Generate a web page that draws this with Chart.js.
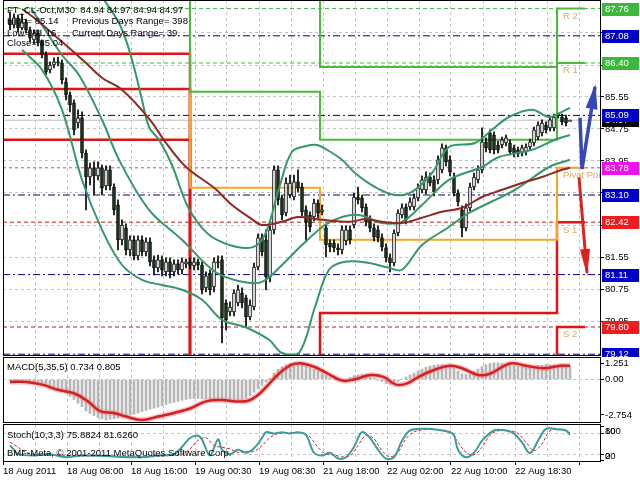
<!DOCTYPE html>
<html>
<head>
<meta charset="utf-8">
<script src="https://cdn.jsdelivr.net/npm/chart.js@4.4.1/dist/chart.umd.min.js"></script>
<style>
  html, body { margin: 0; padding: 0; background: #fff; }
  #wrap { position: relative; width: 640px; height: 480px; overflow: hidden; }
  canvas { position: absolute; left: 0; }
</style>
</head>
<body>
<div id="wrap">
  <canvas id="main" width="640" height="357" style="top:0"></canvas>
  <canvas id="macd" width="640" height="66" style="top:357px"></canvas>
  <canvas id="stoch" width="640" height="57" style="top:423px"></canvas>
</div>
<script>
// ---- data (M30 bars, index 0 = 18 Aug 00:00) ----
const barTimes = ['18 Aug 2011', '18 Aug 08:00', '18 Aug 16:00', '19 Aug 00:30', '19 Aug 08:30',
  '21 Aug 18:00', '22 Aug 02:00', '22 Aug 10:00', '22 Aug 18:30'];

const opens = [87.48,87.35,87.53,87.28,87.43,87.23,86.98,87.15,86.93,86.60,
  86.23,86.35,86.43,86.40,85.93,85.60,85.40,84.90,85.03,84.15,
  83.55,83.78,83.58,83.78,83.33,83.73,83.30,82.85,81.98,82.28,
  81.73,81.98,81.58,81.98,81.68,81.93,81.48,81.28,81.48,81.18,
  81.43,81.18,81.38,81.23,81.38,81.43,81.33,81.43,81.35,80.78,
  81.15,80.80,81.43,81.48,80.40,80.18,80.18,80.40,80.65,80.53,
  80.05,80.30,81.30,82.03,81.98,81.05,82.23,83.73,83.03,82.65,
  83.10,83.05,83.43,83.30,82.73,82.60,82.55,82.90,82.68,82.28,
  81.90,81.90,81.78,81.73,81.95,82.23,82.35,83.05,83.03,82.80,
  82.48,82.28,82.23,82.03,81.78,81.53,81.40,82.15,82.60,82.80,
  82.80,82.80,83.03,83.23,83.23,83.55,83.48,83.48,83.73,84.28,
  83.98,83.55,83.15,82.73,82.28,82.78,83.30,83.48,83.73,84.43,
  84.65,84.60,84.35,84.35,84.40,84.40,84.28,84.23,84.15,84.18,
  84.30,84.40,84.55,84.65,84.85,84.78,84.78,85.10,85.05,85.03,
  84.94];
const highs = [87.68,87.63,87.60,87.63,87.50,87.30,87.23,87.23,86.98,86.68,
  86.43,86.53,86.55,86.48,86.03,85.68,85.48,85.23,85.18,84.23,
  83.90,83.93,83.93,83.85,83.83,83.83,83.38,82.98,82.48,82.38,
  82.08,82.08,82.08,82.08,82.03,82.03,81.58,81.60,81.58,81.53,
  81.53,81.48,81.48,81.53,81.50,81.53,81.53,81.50,81.43,81.18,
  81.23,81.53,81.58,81.58,80.48,80.43,80.73,80.85,80.78,80.60,
  80.48,81.40,82.13,82.13,82.23,82.33,83.83,83.83,83.10,83.53,
  83.60,83.60,83.73,83.40,82.83,82.68,83.00,82.98,82.85,82.35,
  81.98,81.98,81.88,82.33,82.33,82.33,83.15,83.30,83.10,82.88,
  82.58,82.38,82.33,82.13,81.88,81.63,82.23,82.73,82.88,82.88,
  83.03,83.13,83.38,83.58,83.68,83.65,83.58,84.08,84.38,84.35,
  84.08,83.65,83.23,82.83,82.88,83.40,83.65,83.83,84.78,84.53,
  84.73,84.68,84.45,84.55,84.60,84.48,84.35,84.30,84.35,84.38,
  84.50,84.80,84.93,84.98,84.93,85.05,85.12,85.14,85.12,85.10,
  84.97];
const lows = [87.23,87.28,87.18,87.23,87.15,86.93,86.88,86.83,86.53,86.10,
  86.15,86.28,86.33,85.88,85.48,85.18,84.60,84.78,84.03,82.73,
  83.35,83.10,83.48,83.10,83.23,83.23,82.60,81.73,81.85,81.60,
  81.58,81.48,81.48,81.58,81.58,81.33,81.10,81.18,81.08,81.08,
  81.03,81.08,81.13,81.13,81.28,81.25,81.23,81.23,80.63,80.68,
  80.60,80.68,81.28,79.40,79.73,80.08,80.08,80.33,80.28,79.80,
  79.98,80.23,81.23,81.58,80.73,80.93,82.13,82.85,82.48,82.58,
  83.03,82.98,83.18,82.58,81.93,82.18,82.45,82.53,82.60,81.55,
  81.68,81.68,81.60,81.63,81.85,81.88,82.28,82.88,82.68,82.33,
  82.18,81.95,81.93,81.70,81.43,81.18,81.33,82.08,82.53,82.38,
  82.73,82.73,82.95,83.15,83.13,83.33,83.08,83.38,83.65,83.83,
  83.58,83.08,82.83,82.05,82.20,82.70,83.23,83.40,83.65,84.18,
  84.15,84.13,84.15,84.28,84.33,84.10,84.05,84.05,84.08,84.10,
  84.23,84.33,84.48,84.58,84.65,84.70,84.70,85.03,84.85,84.83,
  84.94];
const closes = [87.35,87.53,87.28,87.43,87.23,87.03,87.15,86.90,86.60,86.18,
  86.35,86.43,86.40,85.98,85.60,85.35,84.73,85.03,84.15,83.55,
  83.78,83.58,83.78,83.28,83.73,83.33,82.73,81.98,82.35,81.73,
  81.98,81.58,81.98,81.68,81.93,81.43,81.28,81.48,81.23,81.43,
  81.18,81.38,81.23,81.43,81.43,81.35,81.43,81.35,80.73,81.08,
  80.73,81.43,81.40,80.03,79.98,80.30,80.65,80.73,80.40,80.05,
  80.35,81.30,82.03,81.68,81.05,82.23,83.73,82.98,82.60,83.40,
  83.40,83.43,83.28,82.68,82.43,82.30,82.90,82.65,82.73,81.85,
  81.80,81.78,81.73,82.23,82.23,81.98,83.05,82.98,82.78,82.43,
  82.28,82.05,82.03,81.80,81.53,81.40,82.15,82.65,82.78,82.48,
  82.93,83.03,83.28,83.48,83.55,83.40,83.18,83.98,84.28,83.93,
  83.68,83.15,82.93,82.28,82.78,83.30,83.55,83.73,84.43,84.28,
  84.23,84.23,84.23,84.48,84.53,84.18,84.13,84.13,84.28,84.30,
  84.43,84.73,84.85,84.90,84.73,84.98,85.05,85.12,84.93,84.90,
  84.97];

// indicator lines, [bar, value]
const maLine = [[3,87.75],[6,87.53],[13,86.93],[19,86.40],[23,86.03],[28,85.73],[35,84.98],[39,84.40],
  [44,83.80],[51,83.28],[55.5,82.85],[60,82.53],[63,82.35],[68,82.43],[72,82.55],[78,82.48],[85,82.43],
  [89,82.50],[93,82.43],[98,82.40],[103,82.53],[108,82.68],[113,82.78],[118,83.05],[123,83.23],
  [128,83.40],[133,83.55],[138,83.73],[140,83.78]];
const bbUpper = [[21.75,88.23],[27.5,87.35],[30.5,86.48],[33,85.48],[34.75,84.80],[37.25,84.48],[40.5,83.85],
  [44.25,82.85],[48,82.28],[51.75,81.98],[58,81.78],[61.75,81.85],[64.25,82.23],[67.5,83.35],[70.5,84.18],
  [74.25,84.33],[76.75,84.35],[79.25,84.23],[83,83.98],[86.25,83.65],[91.25,83.30],[96.25,83.10],
  [100.5,83.18],[105.5,83.65],[109.75,84.30],[116.25,84.40],[120.5,84.73],[124.75,85.05],[130.5,85.23],
  [134.75,85.05],[138,85.18],[140,85.28]];
const bbMiddle = [[5.5,87.73],[8,87.35],[13,86.60],[17.25,86.10],[23,84.98],[27.25,83.98],[34.75,82.73],
  [43,81.98],[51.25,81.18],[58,80.93],[63,80.93],[68,81.35],[73,81.85],[78.75,82.35],[83,82.55],
  [87.25,82.60],[93,82.40],[98,82.43],[103,82.85],[109.75,83.48],[118,83.80],[122.25,84.05],
  [130.5,84.23],[136.25,84.48],[140,84.60]];
const bbLower = [[3,86.73],[8,86.23],[13,85.23],[18,83.48],[23,82.23],[28,81.35],[33,80.98],[38,80.85],
  [43,80.73],[48,80.48],[53,79.98],[58.75,79.80],[64.75,79.48],[68,79.15],[72.25,79.15],[76.25,80.30],
  [79.75,81.23],[83.75,81.43],[89.75,81.40],[94.75,81.28],[98,81.23],[103,81.85],[109.75,82.30],
  [114.75,82.65],[126.25,83.23],[134.75,83.80],[140,83.98]];

// daily pivot steps (bar where each day starts, last entry = end of drawing)
const pivotDays = [-1.75, 45, 77.5, 136.75, 143.75];
const r2Levels = [89.00, 88.40, 86.30, 87.76];
const r1Levels = [88.60, 85.68, 84.48, 86.40];
const ppLevels = [88.30, 83.28, 81.98, 83.78];
const s1Levels = [86.63, 78.60, 80.15, 82.42];
const s2Levels = [85.75, 78.40, 78.60, 79.80];
const s3Levels = [84.48, 78.20, 78.40, 78.60];
const pivotNames = ['R 2', 'R 1', 'Pivot Point', 'S 1', 'S 2'];

// horizontal levels with price tags on the axis
const greenLevels = [87.76, 86.40];
const blueLevels = [87.08, 85.09, 83.10, 81.11, 79.12];
const pivotLevel = [83.78];
const redLevels = [82.42, 79.80];
const bidPrice = 84.97;

// hand-drawn forecast arrows
const blueArrow = [[142.5,85.03],[143,83.75],[146.25,85.80]];
const redArrow = [[142.25,83.55],[144.25,81.15]];

const priceTicks = [79.95, 80.75, 81.55, 82.35, 83.15, 83.95, 84.75, 85.55, 86.35, 87.15];

// MACD(5,35,5)
const macdMain = [-0.10,-0.12,-0.14,-0.16,-0.18,-0.20,-0.24,-0.28,-0.30,-0.40,
  -0.50,-0.62,-0.75,-0.88,-1.05,-1.30,-1.55,-1.85,-2.10,-2.45,
  -2.65,-2.80,-2.95,-3.05,-3.15,-3.10,-3.05,-3.00,-2.95,-2.85,
  -2.75,-2.70,-2.60,-2.50,-2.40,-2.30,-2.22,-2.15,-2.05,-1.95,
  -1.85,-1.78,-1.70,-1.62,-1.55,-1.50,-1.48,-1.48,-1.50,-1.50,
  -1.52,-1.50,-1.48,-1.55,-1.65,-1.70,-1.65,-1.60,-1.55,-1.45,
  -1.25,-1.00,-0.70,-0.45,-0.20,0.10,0.50,0.80,1.00,1.15,
  1.25,1.30,1.25,1.15,1.05,0.95,0.80,0.65,0.45,0.30,
  0.15,0.05,-0.05,-0.08,0.00,0.15,0.30,0.38,0.40,0.35,
  0.25,0.10,-0.05,-0.15,-0.30,-0.38,-0.30,-0.15,0.05,0.20,
  0.35,0.50,0.65,0.80,0.95,1.05,1.10,1.15,1.15,1.10,
  1.00,0.85,0.65,0.45,0.40,0.50,0.65,0.80,1.00,1.15,
  1.25,1.30,1.30,1.25,1.20,1.10,1.05,1.00,0.98,0.98,
  1.00,1.05,1.10,1.12,1.15,1.15,1.12,1.10,1.10,1.08,
  1.05];
const macdSignal = [[0,-0.19],[4,-0.19],[8,-0.40],[12,-0.80],[16,-1.07],[19.5,-1.70],[22.5,-2.45],[26,-2.60],
  [29,-2.88],[33,-3.15],[37,-2.88],[41,-2.60],[45,-2.25],[49,-1.70],[53,-1.60],[56.5,-1.70],[59.5,-1.65],
  [62,-1.20],[64.5,-0.43],[67.5,0.53],[70.5,1.15],[73,1.25],[76,0.99],[79,0.53],[83,-0.08],[86,0.00],
  [90,0.35],[93.5,0.19],[96.5,-0.40],[99.5,-0.27],[102.5,0.27],[106.5,0.80],[110,1.07],[113,0.88],
  [117,0.35],[120,0.45],[125,1.25],[129,1.07],[133.5,0.88],[137.5,1.07],[140,1.07]];
const macdTicks = [1.251, 0, -2.754];

// Stochastic(10,3,3)
const stochMain = [[0,45],[1,33],[2,20],[6,16],[10,20],[14,11],[18,16],[25,14],[29,11],[33,11],[37,16],
  [41,20],[43,41],[45,67],[47,74],[48,63],[50,16],[52,63],[53,33],[55,20],[57,33],[59,24],[61,37],[63,67],
  [64,84],[66,80],[68,84],[70,80],[72,84],[74,76],[76,24],[78,16],[80,24],[82,7],[84,11],[86,41],[88,84],
  [90,67],[92,33],[94,7],[96,11],[98,59],[100,89],[104,94],[107,91],[110,84],[111,76],[112,33],[114,11],
  [116,24],[118,59],[121,89],[124,89],[126,80],[128,54],[130,23],[132,59],[134,94],[137,92],[139,89],[140,76]];
const stochSignal = [[0,55],[2,40],[4,25],[8,18],[12,18],[16,14],[20,15],[26,14],[30,12],[35,12],[39,15],
  [43,20],[45,35],[47,60],[49,68],[51,45],[53,40],[55,35],[57,25],[59,28],[61,28],[63,45],[65,68],[67,80],
  [69,82],[71,82],[73,82],[75,70],[77,40],[79,20],[81,18],[83,12],[85,15],[87,45],[89,75],[91,65],[93,30],
  [95,12],[97,25],[99,65],[101,85],[104,92],[107,91],[110,85],[112,55],[114,25],[116,18],[118,40],[120,75],
  [122,88],[125,88],[127,80],[129,55],[131,30],[133,50],[135,88],[138,92],[140,82]];
const stochTicks = [100, 80, 20, 0];

// ---- layout ----
const X_MIN = -1.75, X_MAX = X_MIN + 598 / 4;
const P_MIN = 79.075, P_MAX = 87.975;
const FAM = '"Liberation Sans", Arial, sans-serif';
const FONT = '9.5px ' + FAM;
const GRID = '#c4c4c4';

Chart.defaults.font.family = FAM;
Chart.defaults.font.size = 9.5;
Chart.defaults.color = '#000';
Chart.defaults.animation = false;
Chart.defaults.plugins.legend.display = false;
Chart.defaults.plugins.tooltip.enabled = false;
Chart.defaults.elements.point.radius = 0;

const pts = arr => arr.map(([x, y]) => ({ x, y }));
const flat = v => [{ x: X_MIN, y: v }, { x: X_MAX, y: v }];
function steps(levels) {
  const out = [];
  levels.forEach((v, k) => {
    out.push({ x: pivotDays[k], y: v });
    out.push({ x: pivotDays[k + 1], y: v });
  });
  return out;
}

function xScale(labels) {
  return {
    type: 'linear', min: X_MIN, max: X_MAX, offset: false,
    afterBuildTicks(s) {
      const t = [];
      for (let v = X_MIN; v < X_MAX; v += 8) t.push({ value: v });
      s.ticks = t;
    },
    afterFit(s) { s.height = labels ? 18 : 0; s.paddingLeft = 0; s.paddingRight = 0; },
    grid: {
      color: GRID, offset: false, drawTicks: labels, tickLength: 3,
      tickColor: c => (c.index % 2 ? 'rgba(0,0,0,0)' : '#000')
    },
    border: { display: false, dash: [3, 3] },
    ticks: {
      display: labels, autoSkip: false, maxRotation: 0, minRotation: 0, align: 'start', padding: 1,
      callback: (v, i) => (i % 2 ? '' : (barTimes[i / 2] || ''))
    }
  };
}

function yScale(min, max, ticks, fmt, gridAt) {
  return {
    position: 'right', min, max,
    afterBuildTicks(s) { s.ticks = ticks.map(v => ({ value: v })); },
    afterFit(s) { s.width = 39; s.paddingTop = 0; s.paddingBottom = 0; },
    grid: {
      tickLength: 3, tickColor: '#000',
      color: c => (!gridAt || gridAt.includes(c.tick && c.tick.value) ? GRID : 'rgba(0,0,0,0)')
    },
    border: { display: false, dash: [3, 3] },
    ticks: { padding: 1, autoSkip: false, callback: fmt }
  };
}

const frame = {
  id: 'frame',
  afterDraw(chart) {
    const { ctx, chartArea: a } = chart;
    ctx.save();
    ctx.strokeStyle = '#000';
    ctx.lineWidth = 1;
    ctx.strokeRect(a.left + 0.5, a.top + 0.5, a.right - a.left - 1, a.bottom - a.top - 1);
    ctx.restore();
  }
};

function head(ctx, x0, y0, x1, y1, len, half, color) {
  const a = Math.atan2(y1 - y0, x1 - x0), c = Math.cos(a), s = Math.sin(a);
  ctx.fillStyle = color;
  ctx.beginPath();
  ctx.moveTo(x1 + c * 3, y1 + s * 3);
  ctx.lineTo(x1 - c * len - s * half, y1 - s * len + c * half);
  ctx.lineTo(x1 - c * len + s * half, y1 - s * len - c * half);
  ctx.closePath();
  ctx.fill();
}

const mainOverlay = {
  id: 'mainOverlay',
  afterDatasetsDraw(chart) {
    const { ctx, scales: { x, y } } = chart;
    const px = p => [x.getPixelForValue(p[0]), y.getPixelForValue(p[1])];
    ctx.save();
    let [a, b] = [px(blueArrow[1]), px(blueArrow[2])];
    head(ctx, a[0], a[1], b[0], b[1], 22, 6, '#3747b8');
    [a, b] = [px(redArrow[0]), px(redArrow[1])];
    head(ctx, a[0], a[1], b[0], b[1], 24, 5, '#dd2020');
    ctx.restore();
  },
  afterDraw(chart) {
    const { ctx, chartArea: ar, scales: { x, y } } = chart;
    ctx.save();
    ctx.font = FONT;
    // pivot names in the last day
    ctx.save();
    ctx.beginPath();
    ctx.rect(ar.left, ar.top, ar.right - ar.left, ar.bottom - ar.top);
    ctx.clip();
    ctx.fillStyle = '#e4a65e';
    ctx.textBaseline = 'top';
    const lastDay = [r2Levels[3], r1Levels[3], ppLevels[3], s1Levels[3], s2Levels[3]];
    const nx = x.getPixelForValue(pivotDays[3] + 1.5);
    pivotNames.forEach((n, i) => ctx.fillText(n, nx, y.getPixelForValue(lastDay[i]) + 3));
    ctx.restore();

    // price tags on the axis
    ctx.textBaseline = 'middle';
    const tag = (v, bg) => {
      const py = Math.round(y.getPixelForValue(v));
      ctx.fillStyle = bg;
      ctx.fillRect(602, py - 6, 37, 13);
      ctx.fillStyle = '#fff';
      ctx.fillText(v.toFixed(2), 605, py + 0.5);
    };
    tag(bidPrice, '#000');
    const tags = [];
    greenLevels.forEach(v => tags.push([v, '#3cb93c']));
    blueLevels.forEach(v => tags.push([v, '#0000c8']));
    pivotLevel.forEach(v => tags.push([v, '#ee10ee']));
    redLevels.forEach(v => tags.push([v, '#ee1c1c']));
    tags.sort((p, q) => p[0] - q[0]).forEach(t => tag(t[0], t[1]));

    // info text
    ctx.fillStyle = '#000';
    ctx.textBaseline = 'middle';
    ctx.fillText('FT_CL-Oct,M30  84.94 84.97 84.94 84.97', 7, 10);
    ctx.fillText('High= 85.14', 7, 21);
    ctx.fillText('Previous Days Range= 398', 72, 21);
    ctx.fillText('Low= 81.16', 7, 33);
    ctx.fillText('Current Days Range= 39', 72, 33);
    ctx.fillText('Close= 85.04', 7, 43);
    ctx.restore();
  }
};

const textPlugin = (id, lines) => ({
  id,
  afterDraw(chart) {
    const ctx = chart.ctx;
    ctx.save();
    ctx.font = FONT;
    ctx.fillStyle = '#000';
    ctx.textBaseline = 'middle';
    lines.forEach(([t, tx, ty]) => ctx.fillText(t, tx, ty));
    ctx.restore();
  }
});

// stochastic scale labels sit on top of each other in the terminal
const stochLabels = {
  id: 'stochLabels',
  afterDraw(chart) {
    const { ctx, scales: { y } } = chart;
    ctx.save();
    ctx.font = FONT;
    ctx.fillStyle = '#000';
    ctx.textBaseline = 'middle';
    const top = (y.getPixelForValue(100) + y.getPixelForValue(80)) / 2 + 1;
    const bot = (y.getPixelForValue(20) + y.getPixelForValue(0)) / 2 - 1;
    ctx.fillText('100', 605, top);
    ctx.fillText('80', 605, top);
    ctx.fillText('20', 605, bot);
    ctx.fillText('0', 605, bot);
    ctx.restore();
  }
};

// ---- main price panel ----
const idx = closes.map((c, i) => i);
const lineDs = (data, color, width, order, extra) => Object.assign({
  type: 'line', data, borderColor: color, borderWidth: width, pointRadius: 0, order, fill: false
}, extra || {});

const mainSets = [];
greenLevels.forEach(v => mainSets.push(lineDs(flat(v), '#3cb93c', 1, 20, { borderDash: [4, 3] })));
blueLevels.forEach(v => mainSets.push(lineDs(flat(v), '#000080', 1, 20, { borderDash: [7, 3, 2, 3] })));
pivotLevel.forEach(v => mainSets.push(lineDs(flat(v), '#cc33cc', 1, 20, { borderDash: [3, 3] })));
redLevels.forEach(v => mainSets.push(lineDs(flat(v), '#b02020', 1, 20, { borderDash: [4, 3] })));
mainSets.push(lineDs(flat(bidPrice), '#bdbdbd', 1, 20));
mainSets.push(lineDs(steps(r2Levels), '#4cbb3c', 2, 15));
mainSets.push(lineDs(steps(r1Levels), '#4cbb3c', 2, 15));
mainSets.push(lineDs(steps(ppLevels), '#f5a623', 2, 15));
mainSets.push(lineDs(steps(s1Levels), '#e01414', 2.5, 15));
mainSets.push(lineDs(steps(s2Levels), '#e01414', 2.5, 15));
mainSets.push(lineDs(steps(s3Levels), '#e01414', 2.5, 15));
mainSets.push({
  type: 'bar', order: 6, grouped: false, barThickness: 1, backgroundColor: '#000',
  data: idx.map(i => ({ x: i, y: [lows[i], highs[i]] }))
});
mainSets.push({
  type: 'bar', order: 5, grouped: false, barThickness: 3, minBarLength: 1,
  borderWidth: 1, borderColor: '#000', borderSkipped: false,
  backgroundColor: idx.map(i => (closes[i] >= opens[i] ? '#ffffff' : '#1e3d1e')),
  data: idx.map(i => ({ x: i, y: [opens[i], closes[i]] }))
});
mainSets.push(lineDs(pts(bbUpper), '#35986a', 2, 3, { tension: 0.35 }));
mainSets.push(lineDs(pts(bbMiddle), '#35986a', 2, 3, { tension: 0.35 }));
mainSets.push(lineDs(pts(bbLower), '#35986a', 2, 3, { tension: 0.35 }));
mainSets.push(lineDs(pts(maLine), '#8c2b24', 2, 2, { tension: 0.35 }));
mainSets.push(lineDs(pts(blueArrow), '#3747b8', 3.5, 1, { borderJoinStyle: 'miter' }));
mainSets.push(lineDs(pts(redArrow), '#dd2020', 3, 1));

new Chart(document.getElementById('main'), {
  type: 'bar',
  data: { datasets: mainSets },
  options: {
    responsive: false,
    layout: { padding: { left: 3, right: 0, top: 0, bottom: 1 } },
    scales: {
      x: xScale(false),
      y: yScale(P_MIN, P_MAX, priceTicks, v => v.toFixed(2), null)
    }
  },
  plugins: [frame, mainOverlay]
});

// ---- MACD panel ----
new Chart(document.getElementById('macd'), {
  type: 'bar',
  data: {
    datasets: [
      { type: 'bar', order: 3, grouped: false, barThickness: 2, backgroundColor: '#b6b6b6',
        data: idx.map(i => ({ x: i, y: macdMain[i] })) },
      lineDs(pts(macdSignal), 'rgba(240,130,130,0.45)', 5.5, 2, { tension: 0.4 }),
      lineDs(pts(macdSignal), '#d42020', 2.5, 1, { tension: 0.4 })
    ]
  },
  options: {
    responsive: false,
    layout: { padding: { left: 3, right: 0, top: 0, bottom: 0 } },
    scales: {
      x: xScale(false),
      y: yScale(-3.38, 1.75, macdTicks, v => (v === 0 ? '0.00' : String(v)), [0])
    }
  },
  plugins: [frame, textPlugin('macdText', [['MACD(5,35,5) 0.734 0.805', 7, 10]])]
});

// ---- Stochastic panel ----
new Chart(document.getElementById('stoch'), {
  type: 'line',
  data: {
    datasets: [
      lineDs(pts(stochSignal), '#d42020', 1, 2, { borderDash: [3, 2], tension: 0.35 }),
      lineDs(pts(stochMain), '#3a9c9c', 2, 1, { tension: 0.35 })
    ]
  },
  options: {
    responsive: false,
    layout: { padding: { left: 3, right: 0, top: 1, bottom: 0 } },
    scales: {
      x: xScale(true),
      y: yScale(-3, 108, stochTicks, () => '', [80, 20])
    }
  },
  plugins: [frame, stochLabels, textPlugin('stochText', [
    ['Stoch(10,3,3) 75.8824 81.6260', 7, 12],
    ['BMF-Meta, \u00a9 2001-2011 MetaQuotes Software Corp.', 7, 30]
  ])]
});
</script>
</body>
</html>
